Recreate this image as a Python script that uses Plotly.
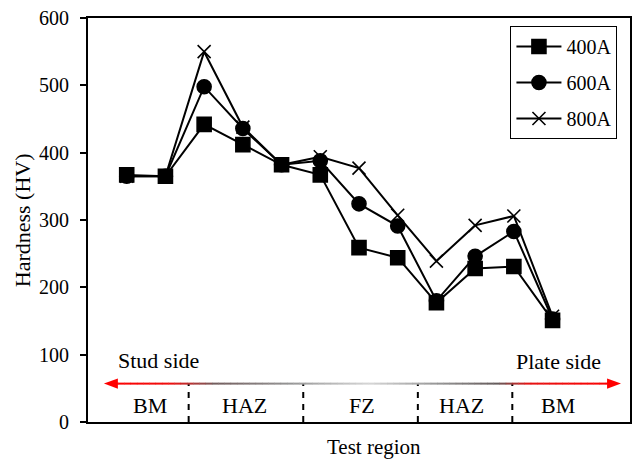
import plotly.graph_objects as go
import numpy as np

# ---- data ----
positions = [1, 2, 3, 4, 5, 6, 7, 8, 9, 10, 11, 12]
hv_400 = [367, 365, 442, 412, 382, 367, 259, 244, 177, 228, 231, 151]
hv_600 = [365, 365, 498, 436, 382, 388, 324, 291, 180, 246, 283, 153]
hv_800 = [365, 365, 550, 438, 382, 394, 377, 307, 239, 292, 306, 157]
series_names = ["400A", "600A", "800A"]
region_labels = ["BM", "HAZ", "FZ", "HAZ", "BM"]
region_centers = [1.6, 4.04, 7.08, 9.65, 12.15]
region_bounds = [2.6, 5.56, 8.52, 10.96]
y_ticks = [0, 100, 200, 300, 400, 500, 600]

FONT = "Liberation Serif"
FS = 19
FA = 22

fig = go.Figure()
symbols = ["square", "circle", "x-thin-open"]
for name, vals, sym in zip(series_names, [hv_400, hv_600, hv_800], symbols):
    mk = dict(symbol=sym, size=14 if sym != "x-thin-open" else 13, color="black",
              line=dict(color="black", width=1.6))
    fig.add_trace(go.Scatter(x=positions, y=vals, mode="lines+markers", name=name,
                             legendgroup=name,
                             line=dict(color="black", width=2), marker=mk))

shapes = []
# region dividers
for b in region_bounds:
    shapes.append(dict(type="line", xref="x", yref="y", x0=b, x1=b, y0=0, y1=57,
                       line=dict(color="black", width=2, dash="6px,6px")))

# gradient arrow
px0, pxw = 88.0, 544.0 / 14.0
def to_x(p):
    return (p - px0) / pxw
stops_px = [104, 170, 215, 290, 370, 440, 500, 530, 622]
stops_rgb = [(255, 0, 0), (240, 15, 15), (115, 95, 95), (150, 150, 150), (215, 215, 215),
             (150, 150, 150), (100, 90, 90), (230, 20, 20), (255, 0, 0)]
ay = 57
N = 80
xs = np.linspace(112, 614, N + 1)
for i in range(N):
    mid = 0.5 * (xs[i] + xs[i + 1])
    c = [int(np.interp(mid, stops_px, [s[k] for s in stops_rgb])) for k in range(3)]
    shapes.append(dict(type="line", xref="x", yref="y", x0=to_x(xs[i]), x1=to_x(xs[i + 1]) + 0.01,
                       y0=ay, y1=ay, line=dict(color=f"rgb({c[0]},{c[1]},{c[2]})", width=2)))
# arrow heads
shapes.append(dict(type="path", xref="x", yref="y",
                   path=f"M {to_x(104)},{ay} L {to_x(118)},{ay+7.5} L {to_x(118)},{ay-7.5} Z",
                   fillcolor="rgb(255,0,0)", line=dict(width=0)))
shapes.append(dict(type="path", xref="x", yref="y",
                   path=f"M {to_x(623)},{ay} L {to_x(609)},{ay+7.5} L {to_x(609)},{ay-7.5} Z",
                   fillcolor="rgb(255,0,0)", line=dict(width=0)))

annotations = []
for lab, cx in zip(region_labels, region_centers):
    annotations.append(dict(x=cx, y=25, xref="x", yref="y", text=lab, showarrow=False,
                            font=dict(family=FONT, size=FA, color="black")))
annotations.append(dict(x=to_x(159), y=92, xref="x", yref="y", text="Stud side", showarrow=False,
                        font=dict(family=FONT, size=FA, color="black")))
annotations.append(dict(x=to_x(560), y=90, xref="x", yref="y", text="Plate side", showarrow=False,
                        font=dict(family=FONT, size=FA, color="black")))
annotations.append(dict(x=(375 - 88) / 544, y=-(447 - 422) / 404, xref="paper", yref="paper",
                        text="Test region", showarrow=False, yanchor="middle",
                        borderpad=0,
                        font=dict(family=FONT, size=21, color="black")))
annotations.append(dict(x=(22 - 88) / 544, y=0.5, xref="paper", yref="paper",
                        text="Hardness (HV)", showarrow=False, textangle=-90,
                        xanchor="center", yanchor="middle",
                        font=dict(family=FONT, size=FA, color="black")))

fig.update_layout(
    width=636, height=463,
    margin=dict(l=88, r=4, t=18, b=41),
    paper_bgcolor="white", plot_bgcolor="white",
    font=dict(family=FONT, size=FS, color="black"),
    showlegend=True,
    legend=dict(x=(512 - 88) / 544, y=(422 - 26) / 404, xanchor="left", yanchor="top",
                bordercolor="black", borderwidth=1, bgcolor="white", itemwidth=45,
                font=dict(family=FONT, size=20, color="black"), tracegroupgap=7),
    shapes=shapes, annotations=annotations,
    xaxis=dict(range=[0, 14], showticklabels=False, ticks="", showgrid=False, zeroline=False,
               showline=True, linecolor="black", linewidth=2, mirror=True),
    yaxis=dict(range=[0, 600], tickvals=y_ticks, ticks="outside", ticklen=6, tickwidth=2,
               tickcolor="black", showgrid=False, zeroline=False,
               showline=True, linecolor="black", linewidth=2, mirror=True,
               ticklabelstandoff=7,
               tickfont=dict(family=FONT, size=20, color="black")),
)

fig.write_html("out.html")
